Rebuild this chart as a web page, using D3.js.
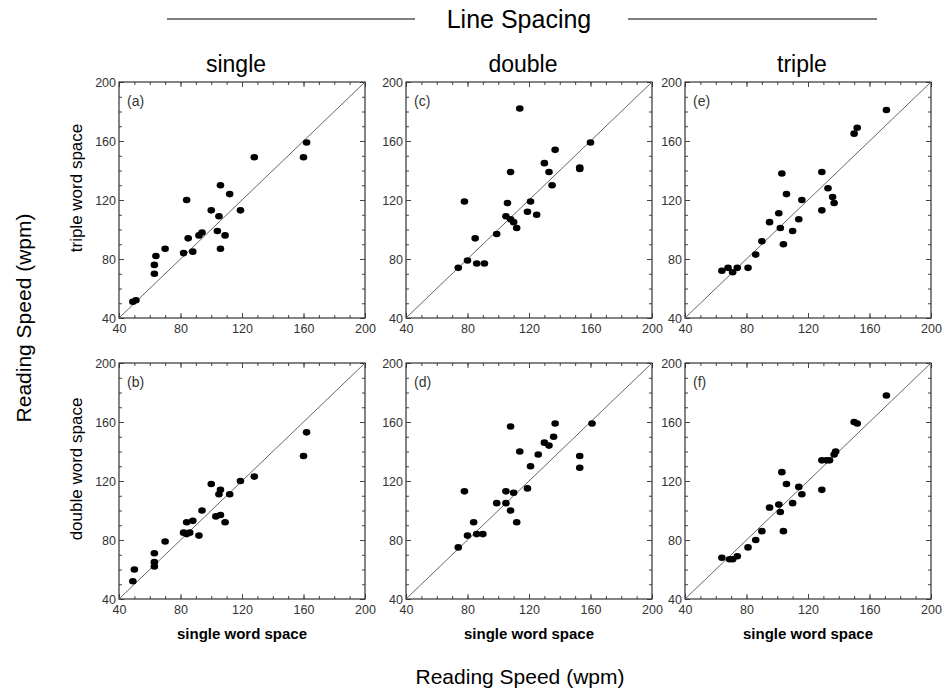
<!DOCTYPE html>
<html>
<head>
<meta charset="utf-8">
<script src="https://cdn.jsdelivr.net/npm/d3@7"></script>
<style>
  body { margin: 0; background: #fff; }
  text { font-family: "Liberation Sans", Arial, sans-serif; }
</style>
</head>
<body>
<script>
// Reading speed data, [single word space, comparison] per panel
var panelA = [[49,51],[51,52],[63,70],[63,76],[64,82],[70,87],[82,84],[88,85],[84,120],[85,94],[92,96],[94,98],[100,113],[105,109],[106,130],[112,124],[104,99],[109,96],[106,87],[119,113],[128,149],[160,149],[162,159]];
var panelB = [[49,52],[50,60],[63,71],[63,65],[63,62],[70,79],[82,85],[84,84],[86,85],[84,92],[88,93],[92,83],[94,100],[100,118],[105,111],[106,114],[103,96],[106,97],[109,92],[112,111],[119,120],[128,123],[160,137],[162,153]];
var panelC = [[74,74],[80,79],[86,77],[91,77],[85,94],[78,119],[99,97],[106,118],[105,109],[108,107],[110,105],[112,101],[108,139],[114,182],[121,119],[119,112],[125,110],[130,145],[133,139],[135,130],[137,154],[153,142],[153,141],[160,159]];
var panelD = [[74,75],[80,83],[78,113],[84,92],[86,84],[90,84],[99,105],[105,105],[105,113],[108,100],[110,112],[112,92],[108,157],[114,140],[119,115],[121,130],[126,138],[130,146],[133,144],[136,150],[137,159],[153,137],[153,129],[161,159]];
var panelE = [[64,72],[68,74],[71,71],[74,74],[81,74],[86,83],[90,92],[95,105],[101,111],[102,101],[103,138],[104,90],[106,124],[110,99],[114,107],[116,120],[129,139],[129,113],[133,128],[136,122],[137,118],[150,165],[152,169],[171,181]];
var panelF = [[64,68],[69,67],[71,67],[74,69],[81,75],[86,80],[90,86],[95,102],[101,104],[102,99],[103,126],[104,86],[106,118],[110,105],[114,116],[116,111],[129,134],[129,114],[132,134],[134,134],[137,138],[138,140],[150,160],[152,159],[171,178]];

var columnTitles = ["single", "double", "triple"];
var rowTitles = ["triple word space", "double word space"];
var panelLetters = [["(a)", "(c)", "(e)"], ["(b)", "(d)", "(f)"]];
var panelData = [[panelA, panelC, panelE], [panelB, panelD, panelF]];
var tickValues = [40, 80, 120, 160, 200];
var minorTicks = d3.range(40, 201, 10);

var svgWidth = 943;
var svgHeight = 696;

var colLeft = [119, 406, 685];
var rowTop = [82, 363];
var panelWidth = 246;
var panelHeight = 236;

var svg = d3.select("body")
            .append("svg")
            .attr("width", svgWidth)
            .attr("height", svgHeight);

// Header
svg.append("text")
   .attr("x", 519).attr("y", 28)
   .attr("text-anchor", "middle")
   .style("font-size", "25px")
   .text("Line Spacing");
svg.append("line").attr("x1", 167).attr("x2", 415).attr("y1", 19).attr("y2", 19)
   .attr("stroke", "#555").attr("stroke-width", 1.5);
svg.append("line").attr("x1", 628).attr("x2", 877).attr("y1", 19).attr("y2", 19)
   .attr("stroke", "#555").attr("stroke-width", 1.5);

// Outer axis titles
svg.append("text")
   .attr("x", 520).attr("y", 684)
   .attr("text-anchor", "middle")
   .style("font-size", "21px")
   .text("Reading Speed (wpm)");
svg.append("text")
   .attr("transform", "translate(31,318) rotate(-90)")
   .attr("text-anchor", "middle")
   .style("font-size", "21px")
   .text("Reading Speed (wpm)");

rowTitles.forEach(function(t, r) {
  svg.append("text")
     .attr("transform", "translate(82," + (rowTop[r] + panelHeight / 2 - 12) + ") rotate(-90)")
     .attr("text-anchor", "middle")
     .style("font-size", "17px")
     .text(t);
});

columnTitles.forEach(function(t, c) {
  svg.append("text")
     .attr("x", colLeft[c] + panelWidth / 2 - 6)
     .attr("y", 72)
     .attr("text-anchor", "middle")
     .style("font-size", "23px")
     .text(t);
});

panelData.forEach(function(row, r) {
  row.forEach(function(data, c) {
    var g = svg.append("g")
               .attr("transform", "translate(" + colLeft[c] + "," + rowTop[r] + ")");

    var x = d3.scaleLinear().domain([40, 200]).range([0, panelWidth]);
    var y = d3.scaleLinear().domain([40, 200]).range([panelHeight, 0]);

    // minor ticks on all sides (inward)
    var axes = [
      d3.axisBottom(x).tickValues(minorTicks).tickSize(-3).tickFormat(""),
      d3.axisTop(x).tickValues(minorTicks).tickSize(-3).tickFormat(""),
      d3.axisLeft(y).tickValues(minorTicks).tickSize(-3).tickFormat(""),
      d3.axisRight(y).tickValues(minorTicks).tickSize(-3).tickFormat("")
    ];
    var shifts = ["translate(0," + panelHeight + ")", null, null, "translate(" + panelWidth + ",0)"];
    axes.forEach(function(a, i) {
      var ag = g.append("g").attr("transform", shifts[i]).call(a);
      ag.select(".domain").remove();
      ag.selectAll("line").attr("stroke", "#444");
    });

    // major ticks with labels
    var xb = g.append("g")
              .attr("transform", "translate(0," + panelHeight + ")")
              .call(d3.axisBottom(x).tickValues(tickValues).tickSize(-5).tickPadding(6));
    var yl = g.append("g")
              .call(d3.axisLeft(y).tickValues(tickValues).tickSize(-5).tickPadding(3));
    var xt = g.append("g").call(d3.axisTop(x).tickValues(tickValues).tickSize(-5).tickFormat(""));
    var yr = g.append("g").attr("transform", "translate(" + panelWidth + ",0)")
              .call(d3.axisRight(y).tickValues(tickValues).tickSize(-5).tickFormat(""));
    [xb, yl, xt, yr].forEach(function(a) {
      a.select(".domain").remove();
      a.selectAll("line").attr("stroke", "#444");
      a.selectAll("text").style("font-size", "12.5px").attr("fill", "#333")
       .style("font-family", "'Liberation Sans', Arial, sans-serif");
    });

    // frame
    g.append("rect")
     .attr("width", panelWidth).attr("height", panelHeight)
     .attr("fill", "none").attr("stroke", "#333").attr("stroke-width", 1.2);

    // identity line
    g.append("line")
     .attr("x1", x(40)).attr("y1", y(40))
     .attr("x2", x(200)).attr("y2", y(200))
     .attr("stroke", "#666").attr("stroke-width", 1);

    g.selectAll("ellipse")
     .data(data)
     .enter()
     .append("ellipse")
     .attr("cx", function(d) { return x(d[0]); })
     .attr("cy", function(d) { return y(d[1]); })
     .attr("rx", 3.8)
     .attr("ry", 3.3)
     .attr("fill", "#000");

    g.append("text")
     .attr("x", 8).attr("y", 24)
     .style("font-size", "14px")
     .attr("fill", "#333")
     .text(panelLetters[r][c]);

    if (r === 1) {
      g.append("text")
       .attr("x", panelWidth / 2).attr("y", panelHeight + 40)
       .attr("text-anchor", "middle")
       .style("font-size", "15px")
       .style("font-weight", "bold")
       .text("single word space");
    }
  });
});
</script>
</body>
</html>
